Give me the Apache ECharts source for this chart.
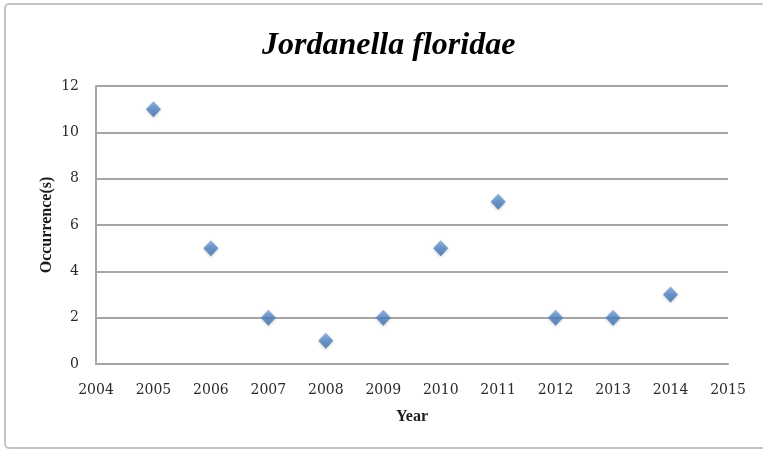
<!DOCTYPE html>
<html>
<head>
<meta charset="utf-8">
<script src="https://cdn.jsdelivr.net/npm/echarts@6/dist/echarts.min.js"></script>
<style>
  html, body { margin: 0; padding: 0; background: #fff; }
  #chart { width: 763px; height: 451px; }
</style>
</head>
<body>
<div id="chart"></div>
<script>
// Yearly occurrence counts for Jordanella floridae
const years = [2005, 2006, 2007, 2008, 2009, 2010, 2011, 2012, 2013, 2014];
const occurrences = [11, 5, 2, 1, 2, 5, 7, 2, 2, 3];
const titleText = 'Jordanella floridae';
const xAxisName = 'Year';
const yAxisName = 'Occurrence(s)';

const points = years.map((y, i) => [y, occurrences[i]]);
const serif = '"Liberation Serif", "DejaVu Serif", serif';
const labelFont = '"DejaVu Serif", serif';

const chart = echarts.init(document.getElementById('chart'), null, { renderer: 'canvas' });
chart.setOption({
  backgroundColor: '#ffffff',
  animation: false,
  graphic: [{
    type: 'rect',
    shape: { x: 5, y: 4, width: 780, height: 444, r: 4 },
    style: { fill: 'none', stroke: '#c4c4c4', lineWidth: 2 },
    z: -1
  }],
  title: {
    text: titleText,
    left: 257,
    top: 25,
    padding: 5,
    textStyle: {
      fontFamily: serif,
      fontStyle: 'italic',
      fontWeight: 'bold',
      fontSize: 32,
      color: '#000'
    }
  },
  grid: { left: 96, right: 35, top: 86, bottom: 87 },
  xAxis: {
    type: 'value',
    min: 2004,
    max: 2015,
    interval: 1,
    name: xAxisName,
    nameLocation: 'middle',
    nameGap: 45,
    nameTextStyle: { fontFamily: serif, fontWeight: 'bold', fontSize: 16, color: '#1a1a1a' },
    axisLine: { show: true, lineStyle: { color: '#a6a6a6', width: 2 } },
    axisTick: { show: false },
    splitLine: { show: false },
    axisLabel: {
      fontFamily: labelFont, fontSize: 14, color: '#2a2a2a', margin: 19,
      formatter: v => String(v)
    }
  },
  yAxis: {
    type: 'value',
    min: 0,
    max: 12,
    interval: 2,
    name: yAxisName,
    nameLocation: 'middle',
    nameGap: 41,
    nameMoveOverlap: false,
    nameRotate: 90,
    nameTextStyle: { fontFamily: serif, fontWeight: 'bold', fontSize: 16, color: '#1a1a1a' },
    axisLine: { show: true, lineStyle: { color: '#a6a6a6', width: 2 } },
    axisTick: { show: false },
    splitLine: { show: true, lineStyle: { color: '#a6a6a6', width: 2 } },
    axisLabel: { fontFamily: labelFont, fontSize: 14, color: '#2a2a2a', margin: 17 }
  },
  series: [{
    type: 'scatter',
    data: points,
    symbol: 'diamond',
    symbolSize: [15, 16],
    itemStyle: {
      color: {
        type: 'linear', x: 0, y: 0, x2: 0, y2: 1,
        colorStops: [
          { offset: 0, color: '#7aa6dc' },
          { offset: 0.5, color: '#4f83c4' },
          { offset: 1, color: '#3d6dab' }
        ]
      },
      shadowColor: 'rgba(0,0,0,0.25)',
      shadowBlur: 3,
      shadowOffsetY: 1
    }
  }]
});
</script>
</body>
</html>
